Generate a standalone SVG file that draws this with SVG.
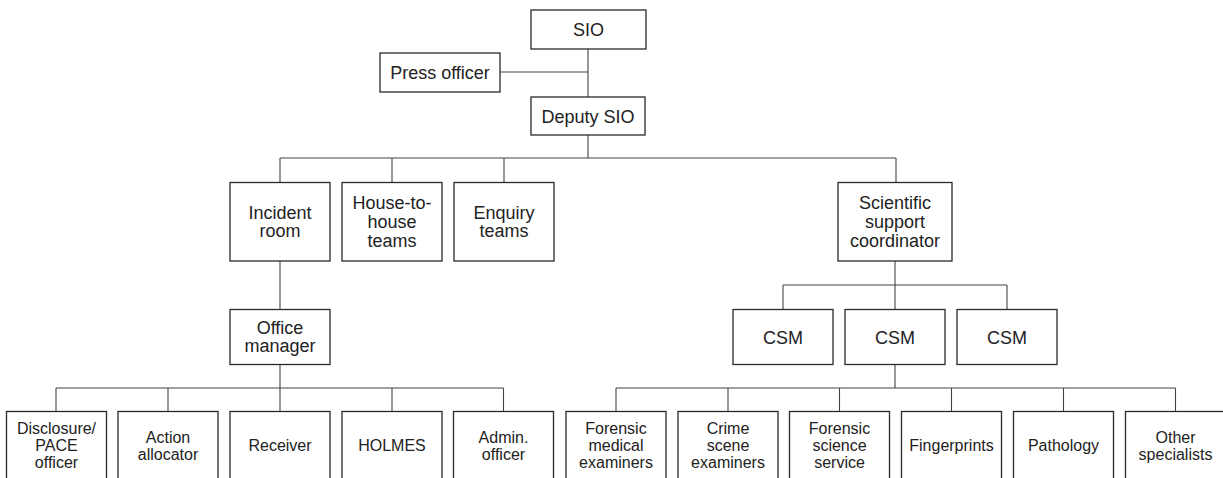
<svg xmlns="http://www.w3.org/2000/svg" width="1223" height="478" viewBox="0 0 1223 478">
<style>
  .box { fill: #ffffff; stroke: #2a2a2a; stroke-width: 1.3; }
  .t { font-family: "Liberation Sans", Arial, Helvetica, sans-serif; font-size: 18px; fill: #222222; text-anchor: middle; }
  .s { font-family: "Liberation Sans", Arial, Helvetica, sans-serif; font-size: 16px; fill: #222222; text-anchor: middle; }
  .ln { fill: none; stroke: #444444; stroke-width: 1.1; }
</style>
<rect width="1223" height="478" fill="#ffffff"/>
<g id="connectors" class="ln">
  <path d="M588 49 V97 M500 72 H588"/>
  <path d="M588 135 V158 M280 158 H896 M280 158 V182.5 M392 158 V182.5 M504 158 V182.5 M896 158 V182.5"/>
  <path d="M280 261 V309.5"/>
  <path d="M280 364.5 V388 M56 388 H503.5 M56 388 V411.5 M168 388 V411.5 M280 388 V411.5 M392 388 V411.5 M503.5 388 V411.5"/>
  <path d="M895 261 V285 M783 285 H1007 M783 285 V309.5 M895 285 V309.5 M1007 285 V309.5"/>
  <path d="M895 364.5 V388 M616 388 H1175.5 M616 388 V411.5 M728 388 V411.5 M839.5 388 V411.5 M951.5 388 V411.5 M1063.5 388 V411.5 M1175.5 388 V411.5"/>
</g>
<g id="sio"><rect class="box" x="531" y="10" width="115" height="39"/><text class="t" x="588.5" y="36">SIO</text></g>
<g id="press-officer"><rect class="box" x="380" y="53" width="120" height="39"/><text class="t" x="440" y="79">Press officer</text></g>
<g id="deputy-sio"><rect class="box" x="531" y="97" width="114" height="38"/><text class="t" x="588" y="122.5">Deputy SIO</text></g>
<g id="incident-room"><rect class="box" x="230" y="182.5" width="100" height="78.5"/><text class="t" x="280" y="219.2">Incident</text><text class="t" x="280" y="237.2">room</text></g>
<g id="house-to-house"><rect class="box" x="342" y="182.5" width="100" height="78.5"/><text class="t" x="392" y="209.2">House-to-</text><text class="t" x="392" y="228.2">house</text><text class="t" x="392" y="247.2">teams</text></g>
<g id="enquiry-teams"><rect class="box" x="454" y="182.5" width="100" height="78.5"/><text class="t" x="504" y="219.2">Enquiry</text><text class="t" x="504" y="237.2">teams</text></g>
<g id="scientific-support"><rect class="box" x="838" y="182.5" width="114" height="78.5"/><text class="t" x="895" y="209.2">Scientific</text><text class="t" x="895" y="228.2">support</text><text class="t" x="895" y="247.2">coordinator</text></g>
<g id="office-manager"><rect class="box" x="230" y="309.5" width="100" height="55"/><text class="t" x="280" y="333.5">Office</text><text class="t" x="280" y="351.5">manager</text></g>
<g id="csm-1"><rect class="box" x="733" y="309.5" width="100" height="55"/><text class="t" x="783" y="343.5">CSM</text></g>
<g id="csm-2"><rect class="box" x="845" y="309.5" width="100" height="55"/><text class="t" x="895" y="343.5">CSM</text></g>
<g id="csm-3"><rect class="box" x="957" y="309.5" width="100" height="55"/><text class="t" x="1007" y="343.5">CSM</text></g>
<g id="disclosure"><rect class="box" x="6.5" y="411.5" width="100" height="70"/><text class="s" x="56.5" y="434">Disclosure/</text><text class="s" x="56.5" y="451">PACE</text><text class="s" x="56.5" y="468">officer</text></g>
<g id="action-allocator"><rect class="box" x="118" y="411.5" width="100" height="70"/><text class="s" x="168" y="442.7">Action</text><text class="s" x="168" y="459.7">allocator</text></g>
<g id="receiver"><rect class="box" x="230" y="411.5" width="100" height="70"/><text class="s" x="280" y="451.2">Receiver</text></g>
<g id="holmes"><rect class="box" x="342" y="411.5" width="100" height="70"/><text class="s" x="392" y="451.2">HOLMES</text></g>
<g id="admin-officer"><rect class="box" x="453.5" y="411.5" width="100" height="70"/><text class="s" x="503.5" y="442.7">Admin.</text><text class="s" x="503.5" y="459.7">officer</text></g>
<g id="forensic-medical"><rect class="box" x="566" y="411.5" width="100" height="70"/><text class="s" x="616" y="434">Forensic</text><text class="s" x="616" y="451">medical</text><text class="s" x="616" y="468">examiners</text></g>
<g id="crime-scene"><rect class="box" x="678" y="411.5" width="100" height="70"/><text class="s" x="728" y="434">Crime</text><text class="s" x="728" y="451">scene</text><text class="s" x="728" y="468">examiners</text></g>
<g id="forensic-science"><rect class="box" x="789.5" y="411.5" width="100" height="70"/><text class="s" x="839.5" y="434">Forensic</text><text class="s" x="839.5" y="451">science</text><text class="s" x="839.5" y="468">service</text></g>
<g id="fingerprints"><rect class="box" x="901.5" y="411.5" width="100" height="70"/><text class="s" x="951.5" y="451.2">Fingerprints</text></g>
<g id="pathology"><rect class="box" x="1013.5" y="411.5" width="100" height="70"/><text class="s" x="1063.5" y="451.2">Pathology</text></g>
<g id="other-specialists"><rect class="box" x="1125.5" y="411.5" width="100" height="70"/><text class="s" x="1175.5" y="442.7">Other</text><text class="s" x="1175.5" y="459.7">specialists</text></g>
</svg>
